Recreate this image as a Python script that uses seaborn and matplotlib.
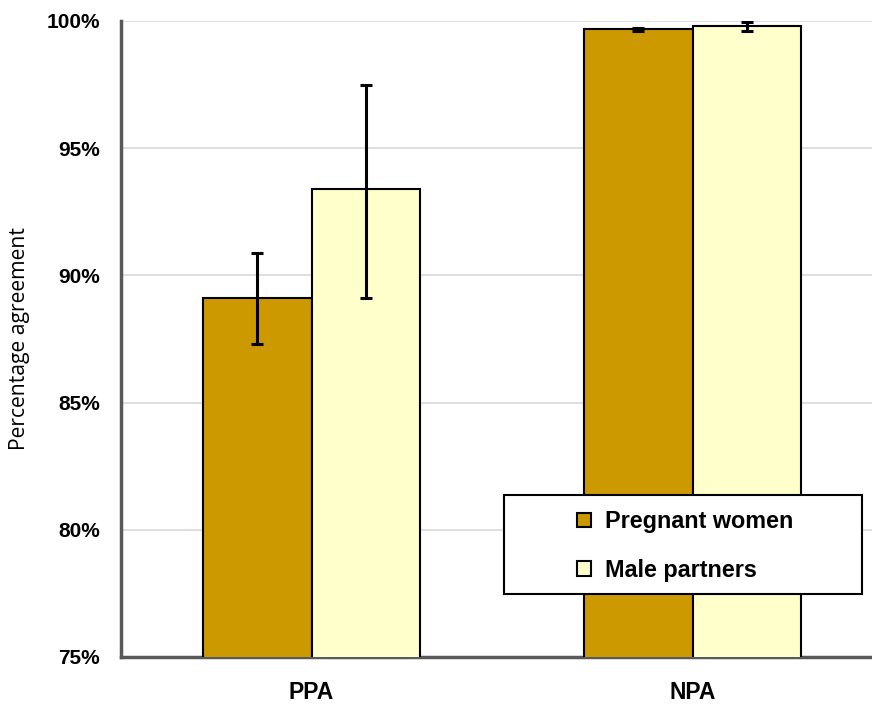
import matplotlib
matplotlib.use("Agg")
import matplotlib.pyplot as plt
import seaborn as sns
import pandas as pd
import numpy as np
from matplotlib.patches import Patch, Rectangle
from matplotlib.ticker import FuncFormatter

categories = ["PPA", "NPA"]
groups = ["Pregnant women", "Male partners"]
pregnant_values = [89.1, 99.67]
pregnant_lower = [87.3, 99.6]
pregnant_upper = [90.9, 99.74]
male_values = [93.4, 99.8]
male_lower = [89.1, 99.62]
male_upper = [97.5, 99.97]
colors = ["#CC9900", "#FFFFCC"]

df = pd.DataFrame({
    "category": categories * 2,
    "group": [groups[0]] * 2 + [groups[1]] * 2,
    "value": pregnant_values + male_values,
})

sns.set_theme(style="white")
plt.rcParams['font.family'] = ['Liberation Sans', 'DejaVu Sans']
plt.rcParams['text.color'] = 'black'
plt.rcParams['xtick.color'] = 'black'
plt.rcParams['ytick.color'] = 'black'

fig = plt.figure(figsize=(8.72, 7.04), dpi=100)
ax = fig.add_axes([121/872, 47/704, 762/872, 636/704])

sns.barplot(data=df, x="category", y="value", hue="group", order=categories,
            hue_order=groups, palette=colors, saturation=1, width=0.567,
            errorbar=None, edgecolor="black", linewidth=1.5, ax=ax,
            legend=False, zorder=3)

# error bars
lows = [pregnant_lower, male_lower]
highs = [pregnant_upper, male_upper]
vals = [pregnant_values, male_values]
bar_conts = list(ax.containers)
for gi, cont in enumerate(bar_conts):
    for ci, bar in enumerate(cont.patches):
        xc = bar.get_x() + bar.get_width() / 2
        v = vals[gi][ci]
        ax.errorbar(xc, v, yerr=[[v - lows[gi][ci]], [highs[gi][ci] - v]],
                    fmt="none", ecolor="black", elinewidth=2.2, capsize=4,
                    capthick=2.2, zorder=4)

ax.set_ylim(75, 100)
ax.set_xlim(-0.5, 1.5)
ax.set_yticks([75, 80, 85, 90, 95, 100])
ax.yaxis.set_major_formatter(FuncFormatter(lambda v, p: f"{v:.0f}%"))
ax.grid(axis="y", color="#d9d9d9", linewidth=1.2, zorder=0)
ax.set_axisbelow(True)
for s in ["top", "right"]:
    ax.spines[s].set_visible(False)
for s in ["left", "bottom"]:
    ax.spines[s].set_color("#595959")
    ax.spines[s].set_linewidth(2.5)
ax.tick_params(axis="y", length=0, pad=15, labelsize=15)
ax.tick_params(axis="x", length=0, pad=17, labelsize=16.5)
for lbl in ax.get_yticklabels() + ax.get_xticklabels():
    lbl.set_fontweight("bold")
ax.set_xlabel("")
ax.set_ylabel("")
fig.text(20/872, (704-339)/704, "Percentage agreement", rotation=90,
         ha="center", va="center", fontsize=15.2,
         family=["Open Sans", "DejaVu Sans"])

# legend box
fig.patches.append(Rectangle((504/872, (704-594)/704), 358/872, 99/704,
                             transform=fig.transFigure, facecolor="white",
                             edgecolor="black", linewidth=1.5, zorder=5,
                             figure=fig))
handles = [Patch(facecolor=colors[i], edgecolor="black", linewidth=1.5, label=groups[i])
           for i in range(2)]
leg = fig.legend(handles=handles, loc="center left",
                 bbox_to_anchor=(577/872, (704-546)/704),
                 frameon=False, prop={"weight": "bold", "size": 16.8},
                 handlelength=0.58, handleheight=0.58, handletextpad=0.6,
                 labelspacing=1.1, borderpad=0, borderaxespad=0)
leg.set_zorder(6)

fig.savefig("out.png", dpi=100)
